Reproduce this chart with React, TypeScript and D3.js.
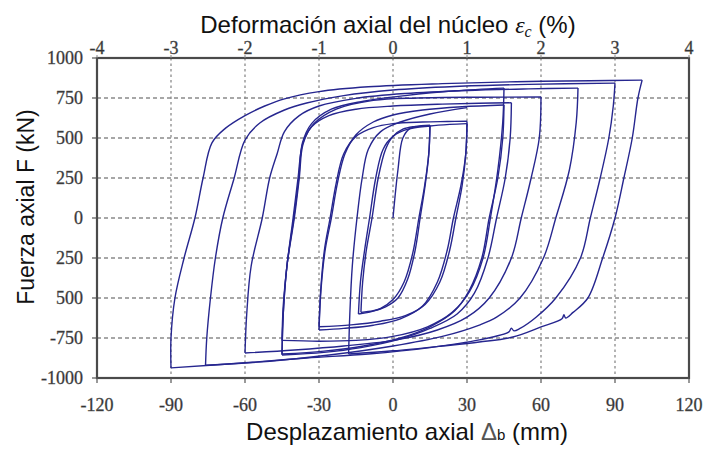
import React from "react";
import * as d3 from "d3";

// ---- axis data ----
const xTicks = [-120, -90, -60, -30, 0, 30, 60, 90, 120];
const strainTicks = [-4, -3, -2, -1, 0, 1, 2, 3, 4];
const yTicks = [1000, 750, 500, 250, 0, -250, -500, -750, -1000];
const yTickLabels = ["1000", "750", "500", "250", "0", "250", "500", "-750", "-1000"];

// ---- hysteresis history: [displacement mm, force kN] ----
const loading0 = [[0, 0], [2, 300], [4, 500], [7, 560], [15, 575]];
const c1aDown = [[15, 575], [14.5, 400], [13, 200], [11, 0], [9, -200], [6, -380], [2, -500], [-3, -555], [-8, -580], [-13, -590]];
const c1aUp = [[-13, -590], [-12.3, -400], [-10.8, -200], [-8.5, 0], [-6, 250], [-3, 430], [0, 510], [4, 555], [9, 572], [15, 580]];
const c1bDown = [[15, 580], [14.5, 400], [12.8, 200], [10.5, 0], [8, -220], [4.5, -400], [0, -510], [-5, -565], [-10, -590], [-14, -600]];
const c1bUp = [[-14, -600], [-13.2, -400], [-11.5, -200], [-9.5, 0], [-7, 250], [-4, 430], [0, 510], [6, 555], [15, 575], [23, 585], [30, 590]];
const c2aDown = [[30, 590], [29.5, 400], [28, 200], [25.5, 0], [23, -200], [19, -400], [13, -540], [5, -610], [-5, -645], [-17, -668], [-30, -680]];
const c2aUp = [[-30, -680], [-29.3, -450], [-27.8, -200], [-25.5, 0], [-23, 220], [-20, 400], [-15, 510], [-8, 565], [0, 590], [12, 600], [22, 603], [30, 605]];
const c2bDown = [[30, 605], [29.5, 400], [27.5, 200], [24.5, 0], [22, -200], [18, -400], [12, -550], [3, -630], [-8, -670], [-20, -690], [-30, -700]];
const c2bUp = [[-30, -700], [-29.2, -450], [-27.5, -200], [-25, 0], [-22.5, 220], [-19.5, 400], [-15, 520], [-8, 600], [0, 644], [12, 675], [28, 695], [45, 706]];
const c3aDown = [[45, 706], [44.5, 500], [42.5, 250], [39, 0], [36, -250], [31, -450], [25, -580], [15, -680], [3, -750], [-12, -800], [-28, -832], [-45, -850]];
const c3aUp = [[-45, -850], [-44.5, -600], [-43, -300], [-40, 0], [-38, 250], [-36.5, 460], [-33, 570], [-26, 640], [-15, 680], [0, 700], [20, 712], [35, 717], [48, 720]];
const c3bDown = [[48, 720], [47.5, 500], [45.5, 250], [42, 0], [38.5, -250], [33, -470], [26, -600], [15, -690], [2, -760], [-13, -810], [-28, -840], [-45, -856]];
const c3bUp = [[-45, -856], [-44.5, -600], [-43, -300], [-40.2, 0], [-38.2, 250], [-36.7, 470], [-33, 590], [-25, 680], [-12, 730], [5, 765], [25, 795], [45, 812]];
const c3cDown = [[45, 812], [44.5, 600], [42.5, 300], [39.5, 0], [36.5, -250], [31, -460], [24, -590], [14, -680], [0, -740], [-15, -765], [-30, -770], [-45, -765]];
const c4Up = [[-45, -765], [-44.5, -550], [-43, -300], [-40.5, 0], [-38.5, 250], [-36.5, 470], [-32, 590], [-23, 680], [-8, 735], [10, 750], [35, 755], [60, 756]];
const c4Down = [[60, 756], [59.3, 500], [56, 250], [52, 0], [48, -250], [39, -500], [30, -620], [18, -700], [2, -760], [-20, -800], [-40, -825], [-60, -844]];
const c5Up = [[-60, -844], [-59.3, -600], [-57.5, -300], [-53, 0], [-50, 250], [-47, 400], [-44, 540], [-38, 640], [-30, 700], [-15, 748], [5, 778], [30, 797], [55, 807], [75, 812]];
const c5Down = [[75, 812], [74.3, 600], [71.5, 300], [66, 0], [61, -250], [51.5, -500], [42, -620], [35, -669], [20, -740], [0, -800], [-25, -855], [-50, -895], [-76, -920]];
const c6Up = [[-76, -920], [-75.5, -750], [-74, -500], [-72, -250], [-69, 0], [-64.5, 244], [-60, 487], [-54, 594], [-44, 675], [-35, 719], [-20, 765], [0, 800], [25, 822], [55, 835], [90, 843]];
const c6Down = [[90, 843], [89.3, 700], [87.5, 500], [84, 250], [80, 0], [76, -250], [66, -500], [58, -620], [51.5, -690], [49, -705], [48, -688], [47, -712], [35, -762], [15, -810], [-10, -850], [-35, -875], [-60, -905], [-90, -937]];
const c7Up = [[-90, -937], [-90, -750], [-88.4, -500], [-84.7, -250], [-80.3, 0], [-77, 250], [-73.4, 470], [-68, 560], [-60, 640], [-52, 700], [-44, 745], [-30, 790], [-10, 820], [20, 840], [50, 852], [80, 858], [101, 862]];
const c7Down = [[101, 862], [99.3, 750], [97, 500], [93.6, 250], [90, 0], [85, -250], [79, -500], [73, -590], [70, -625], [69.3, -605], [68.5, -630], [60, -681], [48.6, -744], [35, -775], [20, -800], [0, -830], [-18, -850]];
const c8Up = [[-18, -850], [-17.5, -600], [-16.5, -300], [-14.6, 0], [-12.5, 250], [-10, 430], [-5, 540], [3, 600], [15, 650], [30, 690]];

const segments = [
  loading0, c1aDown, c1aUp, c1bDown, c1bUp, c2aDown, c2aUp, c2bDown, c2bUp,
  c3aDown, c3aUp, c3bDown, c3bUp, c3cDown, c4Up, c4Down, c5Up, c5Down,
  c6Up, c6Down, c7Up, c7Down, c8Up,
];

const W = 706;
const H = 454;
const L = 97, R = 689, T = 58, B = 378;

export default function App() {
  const x = d3.scaleLinear().domain([-120, 120]).range([L, R]);
  const xs = d3.scaleLinear().domain([-4, 4]).range([L, R]);
  const y = d3.scaleLinear().domain([-1000, 1000]).range([B, T]);
  const line = d3
    .line<number[]>()
    .x((d) => x(d[0]))
    .y((d) => y(d[1]))
    .curve(d3.curveCatmullRom.alpha(0.5));

  const serif = "'Liberation Serif', 'Times New Roman', serif";
  const sans = "'Liberation Sans', Arial, sans-serif";
  const tickProps = {
    fontFamily: serif,
    fontSize: 18,
    fill: "#333",
    stroke: "#555",
    strokeWidth: 0.35,
  };

  return (
    <svg width={W} height={H} style={{ position: "absolute", left: 0, top: 0, background: "#fff" }}>
      {/* grid */}
      {xTicks.slice(1, -1).map((t) => (
        <line key={"gx" + t} x1={x(t)} x2={x(t)} y1={T} y2={B} stroke="#8a8a8a" strokeWidth={1.3} strokeDasharray="2.5,3" />
      ))}
      {yTicks.slice(1, -1).map((t) => (
        <line key={"gy" + t} x1={L} x2={R} y1={y(t)} y2={y(t)} stroke="#8a8a8a" strokeWidth={1.3} strokeDasharray="4,3" />
      ))}
      {/* curves */}
      {segments.map((s, i) => (
        <path key={"s" + i} d={line(s) || ""} fill="none" stroke="#26268f" strokeWidth={1.4} strokeLinejoin="round" />
      ))}
      {/* frame */}
      <rect x={L} y={T} width={R - L} height={B - T} fill="none" stroke="#4a4a4a" strokeWidth={2.2} />
      {/* ticks */}
      {yTicks.map((t) => (
        <line key={"ty" + t} x1={L - 5} x2={L} y1={y(t)} y2={y(t)} stroke="#555" strokeWidth={1.2} />
      ))}
      {xTicks.map((t) => (
        <line key={"tx" + t} x1={x(t)} x2={x(t)} y1={B} y2={B + 5} stroke="#555" strokeWidth={1.2} />
      ))}
      {strainTicks.map((t) => (
        <line key={"ts" + t} x1={xs(t)} x2={xs(t)} y1={T - 3} y2={T} stroke="#888" strokeWidth={1} />
      ))}
      {/* tick labels */}
      {yTicks.map((t, i) => (
        <text key={"ly" + t} x={L - 14} y={y(t)} dy="0.33em" textAnchor="end" {...tickProps}>
          {yTickLabels[i]}
        </text>
      ))}
      {xTicks.map((t) => (
        <text key={"lx" + t} x={x(t)} y={411} textAnchor="middle" {...tickProps}>
          {t}
        </text>
      ))}
      {strainTicks.map((t) => (
        <text key={"ls" + t} x={xs(t)} y={54} textAnchor="middle" {...tickProps}>
          {t}
        </text>
      ))}
      {/* titles */}
      <text x={388} y={33} textAnchor="middle" fontFamily={sans} fontSize={24} fill="#111">
        Deformación axial del núcleo{" "}
        <tspan fontFamily={serif} fontStyle="italic">ε</tspan>
        <tspan fontFamily={serif} fontStyle="italic" fontSize={16} dy={4}>c</tspan>
        <tspan dy={-4}> (%)</tspan>
      </text>
      <text x={407} y={440} textAnchor="middle" fontFamily={sans} fontSize={24} fill="#111">
        Desplazamiento axial <tspan fill="#555" fontWeight={300}>Δ</tspan>
        <tspan fontSize={15}>b</tspan> (mm)
      </text>
      <text transform={`translate(34,207) rotate(-90)`} textAnchor="middle" fontFamily={sans} fontSize={23} fill="#111">
        Fuerza axial F (kN)
      </text>
    </svg>
  );
}
